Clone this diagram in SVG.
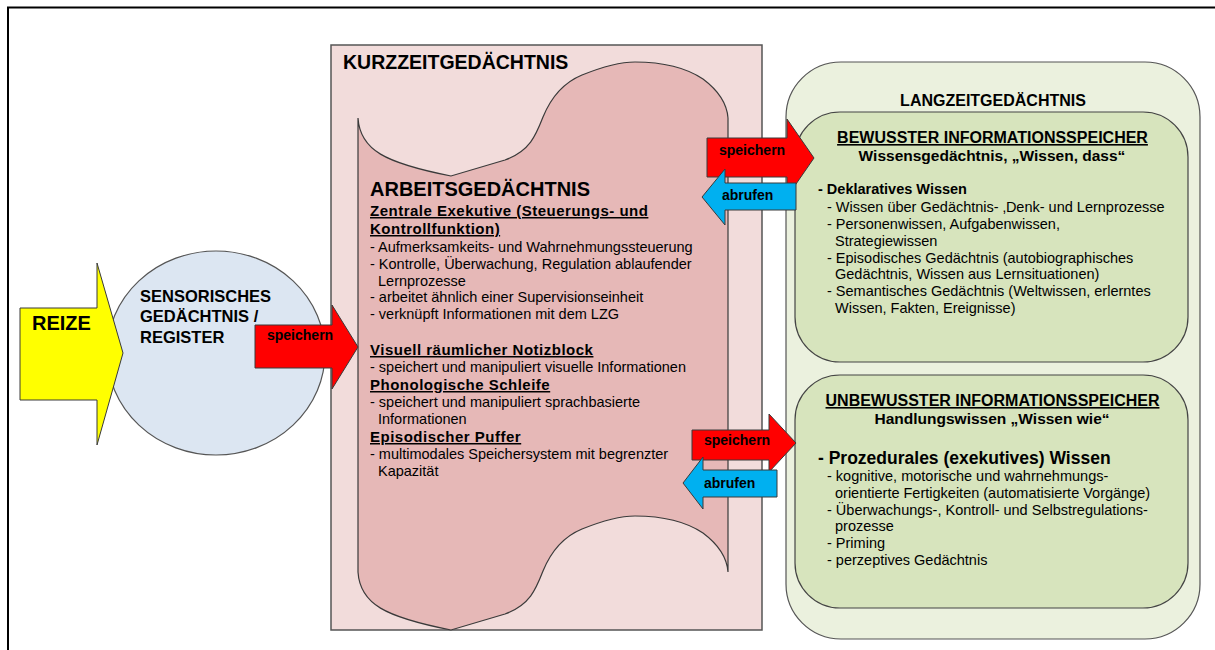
<svg xmlns="http://www.w3.org/2000/svg" width="1215" height="650" viewBox="0 0 1215 650">
  <style>
    text { font-family: "Liberation Sans", Arial, sans-serif; fill: #000; }
    .b { font-weight: bold; }
    .u { text-decoration: underline; }
    .body { font-size: 14.5px; }
    .lbl { font-size: 14px; font-weight: bold; }
    .edge { stroke: #3a3a3a; stroke-width: 1; }
    .red { fill: #ff0000; }
    .blue { fill: #00b0f0; }
    .mid { text-anchor: middle; }
  </style>

  <!-- page frame -->
  <path d="M8,650 V7.5 H1215" fill="none" stroke="#000" stroke-width="2"/>

  <!-- short-term memory -->
  <g id="kurzzeit">
    <rect x="331" y="45" width="431" height="585" fill="#f2dcdb" stroke="#555" stroke-width="1.5"/>
    <text x="343" y="69" class="b" font-size="19.5">KURZZEITGEDÄCHTNIS</text>
  </g>

  <!-- working memory (wave-shaped banner) -->
  <g id="arbeitsgedaechtnis">
    <path d="M358,118 C360,150 385,163 451,176 L505,160 C530,151 536,135 543,117 C552,95 565,82 582,75 C602,67 618,62 635,62 C665,62 688,69 703,79 C719,91 727,104 728,118
             L728,572 C727,558 719,545 703,533 C688,523 665,516 635,516 C618,516 602,521 582,529 C565,536 552,549 543,571 C536,589 530,605 505,614 L451,630 C385,617 360,604 358,572 Z"
          fill="#e6b8b7" stroke="#3a3a3a" stroke-width="1.2"/>
    <text x="370" y="196" class="b" font-size="20">ARBEITSGEDÄCHTNIS</text>
    <text x="370" y="216" class="b u" font-size="15" letter-spacing="0.5">Zentrale Exekutive (Steuerungs- und</text>
    <text x="370" y="234" class="b u" font-size="15" letter-spacing="0.5">Kontrollfunktion)</text>
    <text class="body">
      <tspan x="370" y="252">- Aufmerksamkeits- und Wahrnehmungssteuerung</tspan>
      <tspan x="370" y="269">- Kontrolle, Überwachung, Regulation ablaufender</tspan>
      <tspan x="378" y="286">Lernprozesse</tspan>
      <tspan x="370" y="302">- arbeitet ähnlich einer Supervisionseinheit</tspan>
      <tspan x="370" y="319">- verknüpft Informationen mit dem LZG</tspan>
    </text>
    <text x="370" y="355" class="b u" font-size="15" letter-spacing="0.5">Visuell räumlicher Notizblock</text>
    <text x="370" y="372" class="body">- speichert und manipuliert visuelle Informationen</text>
    <text x="370" y="390" class="b u" font-size="15" letter-spacing="0.5">Phonologische Schleife</text>
    <text class="body">
      <tspan x="370" y="407">- speichert und manipuliert sprachbasierte</tspan>
      <tspan x="378" y="424">Informationen</tspan>
    </text>
    <text x="370" y="442" class="b u" font-size="15" letter-spacing="0.5">Episodischer Puffer</text>
    <text class="body">
      <tspan x="370" y="459">- multimodales Speichersystem mit begrenzter</tspan>
      <tspan x="378" y="476">Kapazität</tspan>
    </text>
  </g>

  <!-- sensory register -->
  <g id="sensorisch">
    <ellipse cx="216" cy="353" rx="109" ry="102" fill="#dce6f2" stroke="#555" stroke-width="1.2"/>
    <text class="b" font-size="16.5">
      <tspan x="140" y="302">SENSORISCHES</tspan>
      <tspan x="140" y="322">GEDÄCHTNIS /</tspan>
      <tspan x="140" y="343">REGISTER</tspan>
    </text>
  </g>

  <!-- stimuli -->
  <g id="reize">
    <polygon points="20,308 97,308 97,263 123,353 97,445 97,400 20,400" fill="#ffff00" class="edge"/>
    <text x="32" y="330" class="b" font-size="20">REIZE</text>
  </g>

  <!-- long-term memory -->
  <g id="langzeit">
    <rect x="786" y="62" width="414" height="577" rx="55" ry="55" fill="#ebf1de" stroke="#555" stroke-width="1.2"/>
    <text x="993" y="106" class="b mid" font-size="16">LANGZEITGEDÄCHTNIS</text>
  </g>

  <g id="bewusst">
    <rect x="795" y="112" width="393" height="250" rx="45" ry="45" fill="#d7e4bd" stroke="#444" stroke-width="1.2"/>
    <text x="992.5" y="143" class="b u mid" font-size="16">BEWUSSTER INFORMATIONSSPEICHER</text>
    <text x="992" y="161" class="b mid" font-size="15.5">Wissensgedächtnis, „Wissen, dass“</text>
    <text x="818" y="194" class="b" font-size="14.5">- Deklaratives Wissen</text>
    <text class="body">
      <tspan x="827" y="212">- Wissen über Gedächtnis- ‚Denk- und Lernprozesse</tspan>
      <tspan x="827" y="229">- Personenwissen, Aufgabenwissen,</tspan>
      <tspan x="835" y="246">Strategiewissen</tspan>
      <tspan x="827" y="263">- Episodisches Gedächtnis (autobiographisches</tspan>
      <tspan x="835" y="279">Gedächtnis, Wissen aus Lernsituationen)</tspan>
      <tspan x="827" y="296">- Semantisches Gedächtnis (Weltwissen, erlerntes</tspan>
      <tspan x="835" y="313">Wissen, Fakten, Ereignisse)</tspan>
    </text>
  </g>

  <g id="unbewusst">
    <rect x="795" y="375" width="393" height="233" rx="45" ry="45" fill="#d7e4bd" stroke="#444" stroke-width="1.2"/>
    <text x="992.5" y="406" class="b u mid" font-size="16">UNBEWUSSTER INFORMATIONSSPEICHER</text>
    <text x="992" y="424" class="b mid" font-size="15.5">Handlungswissen „Wissen wie“</text>
    <text x="818" y="464" class="b" font-size="17.5">- Prozedurales (exekutives) Wissen</text>
    <text class="body">
      <tspan x="827" y="481">- kognitive, motorische und wahrnehmungs-</tspan>
      <tspan x="835" y="498">orientierte Fertigkeiten (automatisierte Vorgänge)</tspan>
      <tspan x="827" y="515">- Überwachungs-, Kontroll- und Selbstregulations-</tspan>
      <tspan x="835" y="531">prozesse</tspan>
      <tspan x="827" y="548">- Priming</tspan>
      <tspan x="827" y="565">- perzeptives Gedächtnis</tspan>
    </text>
  </g>

  <!-- transfer arrows -->
  <g id="connectors">
    <g id="sg-kzg-speichern">
      <polygon points="255,325 332,325 332,305 358,347 332,389 332,368 255,368" class="red edge"/>
      <text x="267" y="340" class="lbl">speichern</text>
    </g>
    <g id="kzg-bewusst-speichern">
      <polygon points="707,138 787,138 787,119 814,158 787,197 787,177 707,177" class="red edge"/>
      <text x="719" y="155" class="lbl">speichern</text>
    </g>
    <g id="bewusst-kzg-abrufen">
      <polygon points="796,183 725,183 725,169 702,197 725,225 725,210 796,210" class="blue edge"/>
      <text x="722" y="200" class="lbl">abrufen</text>
    </g>
    <g id="kzg-unbewusst-speichern">
      <polygon points="692,430 769,430 769,414 796,443 769,472 769,460 692,460" class="red edge"/>
      <text x="704" y="445" class="lbl">speichern</text>
    </g>
    <g id="unbewusst-kzg-abrufen">
      <polygon points="777,470 703,470 703,457 683,483 703,509 703,497 777,497" class="blue edge"/>
      <text x="704" y="488" class="lbl">abrufen</text>
    </g>
  </g>
</svg>
